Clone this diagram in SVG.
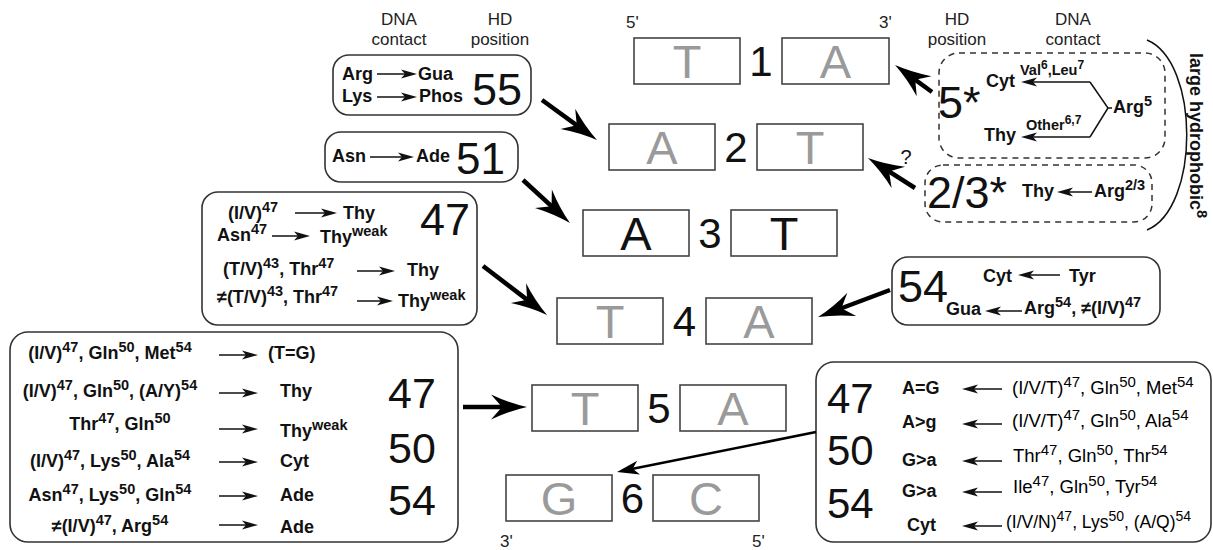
<svg xmlns="http://www.w3.org/2000/svg" width="1213" height="550" viewBox="0 0 1213 550">
<style>
text { font-family: "Liberation Sans", Arial, Helvetica, sans-serif; fill: #111; }
.b { font-weight: bold; font-size: 18px; }
.s { font-size: 14.5px; }
.sm { font-weight: bold; font-size: 14.5px; }
.ss { font-size: 12px; }
.r { font-weight: normal; font-size: 18.5px; fill: #000; }
.rs { font-size: 15px; }
.big { font-size: 45px; }
.big2 { font-size: 43px; }
.lab { font-size: 17px; text-anchor: middle; fill: #222; }
.prime { font-size: 17px; fill: #222; }
.base { font-size: 47px; text-anchor: middle; fill: #9a9a9a; }
.base.k { fill: #111; }
.num { font-size: 42px; text-anchor: middle; }
.mid { text-anchor: middle; }
.box { fill: none; stroke: #333; stroke-width: 1.6; }
.dbox { fill: none; stroke: #333; stroke-width: 1.5; stroke-dasharray: 6 5; }
.bp { fill: none; stroke: #444; stroke-width: 1.6; }
.con { stroke: #000; stroke-width: 4.5; fill: none; marker-end: url(#big); }
.con2 { stroke: #000; stroke-width: 2.5; fill: none; marker-end: url(#mida); }
.sa { stroke: #111; stroke-width: 1.5; fill: none; marker-end: url(#sm); }
.ln { stroke: #111; stroke-width: 1.5; fill: none; }
</style>
<defs>
<marker id="big" viewBox="-29 -14 41 28" markerWidth="41" markerHeight="28" refX="0" refY="0" orient="auto" markerUnits="userSpaceOnUse">
<path d="M10,0 Q-8,-4 -26,-12.5 L-15,0 L-26,12.5 Q-8,4 10,0 Z" fill="#000"/>
</marker>
<marker id="mida" viewBox="-18 -9 26 18" markerWidth="26" markerHeight="18" refX="0" refY="0" orient="auto" markerUnits="userSpaceOnUse">
<path d="M6,0 L-16,-7 L-10,0 L-16,7 Z" fill="#000"/>
</marker>
<marker id="sm" viewBox="-14 -6 20 12" markerWidth="20" markerHeight="12" refX="0" refY="0" orient="auto" markerUnits="userSpaceOnUse">
<path d="M4,0 L-12,-4.5 L-8,0 L-12,4.5 Z" fill="#111"/>
</marker>
</defs>
<rect width="1213" height="550" fill="#fff"/>

<g id="headers">
<text class="lab" x="399" y="25">DNA</text>
<text class="lab" x="399" y="45">contact</text>
<text class="lab" x="500" y="25">HD</text>
<text class="lab" x="500" y="45">position</text>
<text class="lab" x="957" y="25">HD</text>
<text class="lab" x="957" y="45">position</text>
<text class="lab" x="1073" y="25">DNA</text>
<text class="lab" x="1073" y="45">contact</text>
<text class="prime" x="626" y="28">5'</text>
<text class="prime" x="879" y="28">3'</text>
<text class="prime" x="500" y="547">3'</text>
<text class="prime" x="752" y="547">5'</text>
</g>

<g id="bp1">
<rect class="bp" x="634" y="38" width="106" height="46"/>
<text class="base" x="687" y="78">T</text>
<text class="num" x="761" y="76">1</text>
<rect class="bp" x="782" y="38" width="107" height="46"/>
<text class="base" x="835.5" y="78">A</text>
</g>
<g id="bp2">
<rect class="bp" x="609" y="124" width="106" height="46"/>
<text class="base" x="662" y="164">A</text>
<text class="num" x="736" y="162">2</text>
<rect class="bp" x="757" y="124" width="106" height="46"/>
<text class="base" x="810" y="164">T</text>
</g>
<g id="bp3">
<rect class="bp" x="583" y="210" width="106" height="46"/>
<text class="base k" x="636" y="250">A</text>
<text class="num" x="710" y="248">3</text>
<rect class="bp" x="731" y="210" width="106" height="46"/>
<text class="base k" x="784" y="250">T</text>
</g>
<g id="bp4">
<rect class="bp" x="557" y="298" width="106" height="46"/>
<text class="base" x="610" y="338">T</text>
<text class="num" x="684.5" y="336">4</text>
<rect class="bp" x="706" y="298" width="106" height="46"/>
<text class="base" x="759" y="338">A</text>
</g>
<g id="bp5">
<rect class="bp" x="532" y="385" width="106" height="46"/>
<text class="base" x="585" y="425">T</text>
<text class="num" x="659" y="423">5</text>
<rect class="bp" x="680" y="385" width="106" height="46"/>
<text class="base" x="733" y="425">A</text>
</g>
<g id="bp6">
<rect class="bp" x="506" y="475" width="106" height="46"/>
<text class="base" x="559" y="515">G</text>
<text class="num" x="632.5" y="513">6</text>
<rect class="bp" x="653" y="475" width="106" height="46"/>
<text class="base" x="706" y="515">C</text>
</g>

<g id="node-55">
<rect class="box" x="333" y="55" width="198" height="60" rx="16"/>
<text class="b" x="342" y="80">Arg</text>
<line class="sa" x1="377" y1="74" x2="413" y2="74"/>
<text class="b" x="418" y="80">Gua</text>
<text class="b" x="342" y="102">Lys</text>
<line class="sa" x1="377" y1="97" x2="413" y2="97"/>
<text class="b" x="419" y="102">Phos</text>
<text class="big" x="472" y="105">55</text>
</g>

<g id="node-51">
<rect class="box" x="325" y="132" width="193" height="50" rx="16"/>
<text class="b" x="332" y="162">Asn</text>
<line class="sa" x1="370" y1="157" x2="410" y2="157"/>
<text class="b" x="416" y="162">Ade</text>
<text class="big" style="font-size:44px" x="456" y="174">51</text>
</g>

<g id="node-47">
<rect class="box" x="202" y="192" width="275" height="133" rx="16"/>
<text class="b" x="228" y="219">(I/V)<tspan class="s" dy="-7">47</tspan></text>
<line class="sa" x1="295" y1="213" x2="333" y2="213"/>
<text class="b" x="343" y="219">Thy</text>
<text class="b" x="217" y="241">Asn<tspan class="s" dy="-7">47</tspan></text>
<line class="sa" x1="272" y1="236" x2="306" y2="236"/>
<text class="b" x="320" y="243">Thy<tspan class="s" dy="-7">weak</tspan></text>
<text class="b" x="223" y="275">(T/V)<tspan class="s" dy="-7">43</tspan><tspan dy="7">, Thr</tspan><tspan class="s" dy="-7">47</tspan></text>
<line class="sa" x1="357" y1="271" x2="391" y2="271"/>
<text class="b" x="407" y="276">Thy</text>
<text class="b" x="217" y="303">≠(T/V)<tspan class="s" dy="-7">43</tspan><tspan dy="7">, Thr</tspan><tspan class="s" dy="-7">47</tspan></text>
<line class="sa" x1="357" y1="301" x2="389" y2="301"/>
<text class="b" x="398" y="307">Thy<tspan class="s" dy="-7">weak</tspan></text>
<text class="big" x="420" y="235">47</text>
</g>

<g id="node-54">
<rect class="box" x="892" y="257" width="268" height="68" rx="16"/>
<text class="big" x="898" y="302">54</text>
<text class="b" x="983" y="282">Cyt</text>
<line class="sa" x1="1060" y1="275" x2="1022" y2="275"/>
<text class="b" x="1069" y="282">Tyr</text>
<text class="b" x="946" y="315">Gua</text>
<line class="sa" x1="1022" y1="311" x2="989" y2="311"/>
<text class="b" x="1024" y="314">Arg<tspan class="s" dy="-7">54</tspan><tspan dy="7">, ≠(I/V)</tspan><tspan class="s" dy="-7">47</tspan></text>
</g>

<g id="node-5star">
<rect class="dbox" x="939" y="53" width="226" height="105" rx="20"/>
<text class="big" x="938" y="118">5*</text>
<text class="b" x="986" y="87">Cyt</text>
<text class="sm" x="1020" y="75">Val<tspan class="ss" dy="-6">6</tspan><tspan dy="6">,Leu</tspan><tspan class="ss" dy="-6">7</tspan></text>
<text class="b" x="984" y="141">Thy</text>
<text class="sm" x="1026" y="130">Other<tspan class="ss" dy="-6">6,7</tspan></text>
<path class="ln" d="M1090,82 L1108,108 L1090,137 M1108,108 L1112,108"/>
<line class="sa" x1="1090" y1="82" x2="1025" y2="82"/>
<line class="sa" x1="1090" y1="137" x2="1025" y2="137"/>
<text class="b" x="1113" y="113">Arg<tspan class="s" dy="-7">5</tspan></text>
</g>

<g id="node-23star">
<rect class="dbox" x="925" y="165" width="227" height="57" rx="18"/>
<text class="big" x="927" y="208">2/3*</text>
<text class="b" x="1022" y="197">Thy</text>
<line class="sa" x1="1092" y1="192" x2="1061" y2="192"/>
<text class="b" x="1094" y="197">Arg<tspan class="s" dy="-7">2/3</tspan></text>
</g>

<g id="node-hydrophobic">
<path class="ln" d="M1147,40 C1200,62 1200,208 1147,230"/>
<text class="b" style="font-size:18px" transform="translate(1190,53) rotate(90)" x="0" y="0">large hydrophobic<tspan class="s" dy="-7">8</tspan></text>
</g>

<g id="node-bl">
<rect class="box" x="10" y="332" width="448" height="210" rx="18"/>
<text class="b mid" x="110" y="359">(I/V)<tspan class="s" dy="-7">47</tspan><tspan dy="7">, Gln</tspan><tspan class="s" dy="-7">50</tspan><tspan dy="7">, Met</tspan><tspan class="s" dy="-7">54</tspan></text>
<text class="b mid" x="110" y="397">(I/V)<tspan class="s" dy="-7">47</tspan><tspan dy="7">, Gln</tspan><tspan class="s" dy="-7">50</tspan><tspan dy="7">, (A/Y)</tspan><tspan class="s" dy="-7">54</tspan></text>
<text class="b mid" x="120" y="430">Thr<tspan class="s" dy="-7">47</tspan><tspan dy="7">, Gln</tspan><tspan class="s" dy="-7">50</tspan></text>
<text class="b mid" x="110" y="467">(I/V)<tspan class="s" dy="-7">47</tspan><tspan dy="7">, Lys</tspan><tspan class="s" dy="-7">50</tspan><tspan dy="7">, Ala</tspan><tspan class="s" dy="-7">54</tspan></text>
<text class="b mid" x="110" y="501">Asn<tspan class="s" dy="-7">47</tspan><tspan dy="7">, Lys</tspan><tspan class="s" dy="-7">50</tspan><tspan dy="7">, Gln</tspan><tspan class="s" dy="-7">54</tspan></text>
<text class="b mid" x="110" y="532">≠(I/V)<tspan class="s" dy="-7">47</tspan><tspan dy="7">, Arg</tspan><tspan class="s" dy="-7">54</tspan></text>
<line class="sa" x1="219" y1="355" x2="254" y2="355"/>
<line class="sa" x1="219" y1="393" x2="254" y2="393"/>
<line class="sa" x1="219" y1="429" x2="254" y2="429"/>
<line class="sa" x1="219" y1="462" x2="254" y2="462"/>
<line class="sa" x1="219" y1="496" x2="254" y2="496"/>
<line class="sa" x1="219" y1="525" x2="254" y2="525"/>
<text class="b" x="268" y="359">(T=G)</text>
<text class="b" x="280" y="397">Thy</text>
<text class="b" x="280" y="437">Thy<tspan class="s" dy="-7">weak</tspan></text>
<text class="b" x="280" y="467">Cyt</text>
<text class="b" x="280" y="501">Ade</text>
<text class="b" x="280" y="533">Ade</text>
<text class="big2" x="388" y="408">47</text>
<text class="big2" x="388" y="463">50</text>
<text class="big2" x="388" y="515">54</text>
</g>

<g id="node-br">
<rect class="box" x="816" y="362" width="395" height="180" rx="18"/>
<text class="big2" style="font-size:42px" x="827" y="413">47</text>
<text class="big2" style="font-size:42px" x="827" y="465">50</text>
<text class="big2" style="font-size:42px" x="827" y="518">54</text>
<text class="b" x="902" y="394">A=G</text>
<text class="b" x="902" y="428">A&gt;g</text>
<text class="b" x="902" y="466">G&gt;a</text>
<text class="b" x="902" y="497">G&gt;a</text>
<text class="b" x="907" y="531">Cyt</text>
<line class="sa" x1="1002" y1="389" x2="966" y2="389"/>
<line class="sa" x1="1002" y1="424" x2="966" y2="424"/>
<line class="sa" x1="1002" y1="461" x2="966" y2="461"/>
<line class="sa" x1="1002" y1="492" x2="966" y2="492"/>
<line class="sa" x1="1002" y1="526" x2="966" y2="526"/>
<text class="r" x="1012" y="394">(I/V/T)<tspan class="rs" dy="-7">47</tspan><tspan dy="7">, Gln</tspan><tspan class="rs" dy="-7">50</tspan><tspan dy="7">, Met</tspan><tspan class="rs" dy="-7">54</tspan></text>
<text class="r" x="1012" y="427">(I/V/T)<tspan class="rs" dy="-7">47</tspan><tspan dy="7">, Gln</tspan><tspan class="rs" dy="-7">50</tspan><tspan dy="7">, Ala</tspan><tspan class="rs" dy="-7">54</tspan></text>
<text class="r" x="1013" y="462">Thr<tspan class="rs" dy="-7">47</tspan><tspan dy="7">, Gln</tspan><tspan class="rs" dy="-7">50</tspan><tspan dy="7">, Thr</tspan><tspan class="rs" dy="-7">54</tspan></text>
<text class="r" x="1013" y="493">Ile<tspan class="rs" dy="-7">47</tspan><tspan dy="7">, Gln</tspan><tspan class="rs" dy="-7">50</tspan><tspan dy="7">, Tyr</tspan><tspan class="rs" dy="-7">54</tspan></text>
<text class="r" style="font-size:17.5px" x="1006" y="528">(I/V/N)<tspan style="font-size:14px" dy="-7">47</tspan><tspan dy="7">, Lys</tspan><tspan style="font-size:14px" dy="-7">50</tspan><tspan dy="7">, (A/Q)</tspan><tspan style="font-size:14px" dy="-7">54</tspan></text>
</g>

<g id="connectors">
<line class="con" x1="542" y1="100" x2="588.9" y2="134.1"/>
<line class="con" x1="523" y1="180" x2="562.6" y2="216.3"/>
<line class="con" x1="483" y1="266" x2="539.1" y2="308.9"/>
<line class="con" x1="890" y1="290" x2="827.4" y2="313.5"/>
<line class="con" x1="463" y1="407" x2="517" y2="407"/>
<line class="con2" x1="816" y1="432" x2="622.9" y2="470.8"/>
<line class="con" x1="932" y1="92" x2="903.1" y2="70.9"/>
<line class="con" x1="915" y1="188" x2="876.4" y2="163.4"/>
<text style="font-size:20px" x="906" y="164" text-anchor="middle">?</text>
</g>
</svg>
